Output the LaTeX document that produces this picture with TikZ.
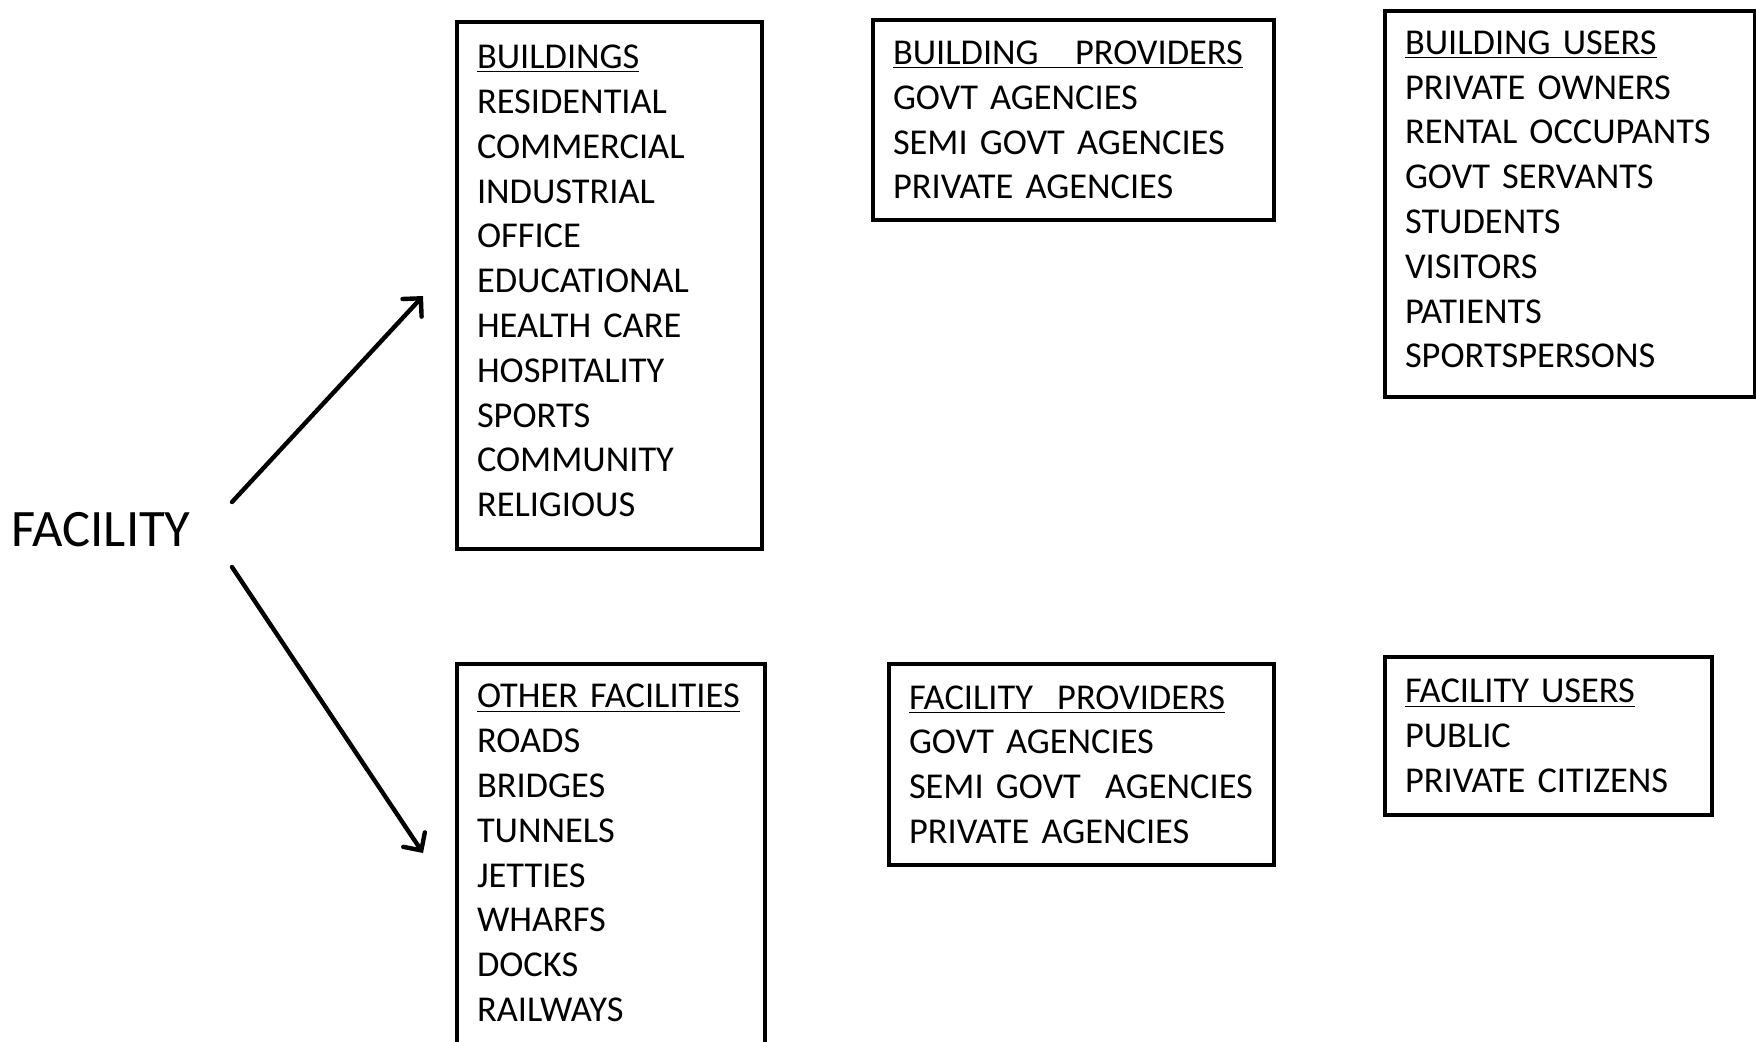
\documentclass[tikz,border=0pt]{standalone}
\usepackage{fontspec}
\setmainfont{Carlito}
\usetikzlibrary{arrows.meta}
\begin{document}
\begin{tikzpicture}[x=0.5pt,y=-0.5pt,
  listbox/.style={draw=black, line width=2pt, anchor=north west, inner xsep=10pt,
    inner ysep=0pt, align=left, font=\fontsize{18.2}{22.4}\selectfont},
  arr/.style={line width=2.2pt, line cap=round, -{Straight Barb[length=6.5pt,width=13pt,line cap=round]}}
]
\useasboundingbox (0,0) rectangle (1756,1041);
\clip (0,0) rectangle (1756,1041);

% root label
\node[font=\fontsize{26.3}{30}\selectfont, inner sep=0pt] (fac) at (101,530) {FACILITY};

% building column
\node[listbox, minimum width=152.5pt, minimum height=263.5pt, text width=132.5pt] (bld) at (455,20)
  {\underline{BUILDINGS}\\ RESIDENTIAL\\ COMMERCIAL\\ INDUSTRIAL\\ OFFICE\\ EDUCATIONAL\\
   HEALTH CARE\\ HOSPITALITY\\ SPORTS\\ COMMUNITY\\ RELIGIOUS\vspace{4.5pt}};
\node[listbox, minimum width=200.5pt, minimum height=100pt, text width=180.5pt] (bprov) at (871,18)
  {\underline{BUILDING\ \ \ PROVIDERS}\\ GOVT AGENCIES\\ \mbox{SEMI GOVT AGENCIES}\\ PRIVATE AGENCIES};
\node[listbox, minimum width=185pt, minimum height=193pt, text width=165pt] (busers) at (1383,9)
  {\underline{BUILDING USERS}\\ PRIVATE OWNERS\\ \mbox{RENTAL OCCUPANTS}\\ GOVT SERVANTS\\ STUDENTS\\
   VISITORS\\ PATIENTS\\ SPORTSPERSONS\vspace{4.5pt}};

% other facilities column
\node[listbox, minimum width=154pt, minimum height=192.5pt, text width=134pt] (oth) at (455,662)
  {\underline{OTHER FACILITIES}\\ ROADS\\ BRIDGES\\ TUNNELS\\ JETTIES\\ WHARFS\\ DOCKS\\ RAILWAYS\vspace{3.5pt}};
\node[listbox, minimum width=192.5pt, minimum height=100.5pt, text width=172.5pt] (fprov) at (887,662)
  {\underline{FACILITY\ \ PROVIDERS}\\ GOVT AGENCIES\\ \mbox{SEMI GOVT\ \ AGENCIES}\\ PRIVATE AGENCIES};
\node[listbox, minimum width=163.5pt, minimum height=79pt, text width=143.5pt] (fusers) at (1383,655)
  {\underline{FACILITY USERS}\\ PUBLIC\\ \mbox{PRIVATE CITIZENS}};

% branch arrows
\coordinate (s1) at (232,502);
\coordinate (e1) at (423,296);
\coordinate (s2) at (232,567);
\coordinate (e2) at (423,853);
\draw[arr] (s1) -- (e1);
\draw[arr] (s2) -- (e2);
\end{tikzpicture}
\end{document}
